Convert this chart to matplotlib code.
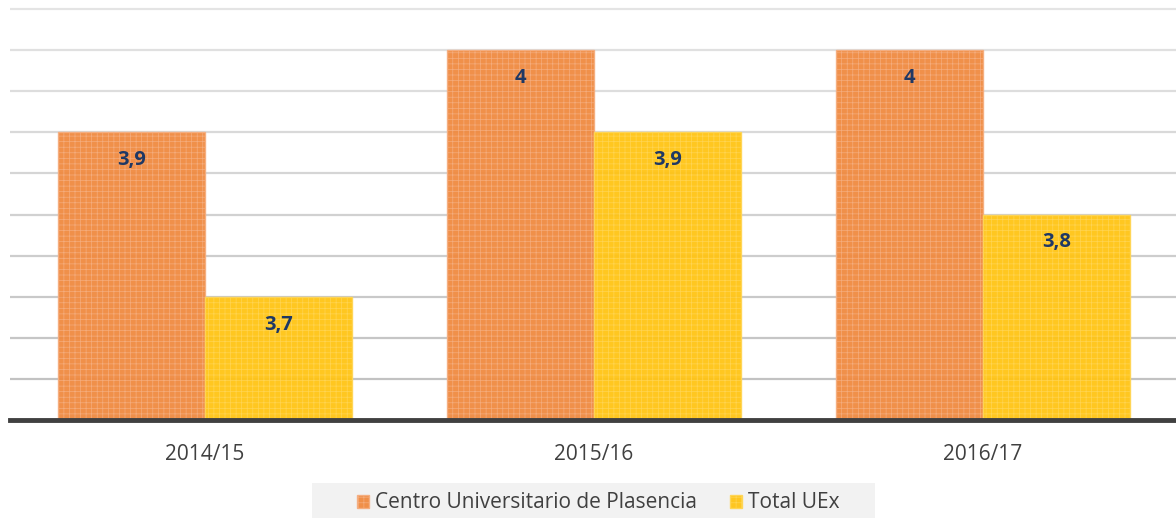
import matplotlib.pyplot as plt
import numpy as np
from matplotlib.patches import Rectangle

# data
years = ["2014/15", "2015/16", "2016/17"]
plasencia = [3.9, 4.0, 4.0]
total_uex = [3.7, 3.9, 3.8]
labels_plasencia = ["3,9", "4", "4"]
labels_uex = ["3,7", "3,9", "3,8"]
series_names = ["Centro Universitario de Plasencia", "Total UEx"]

plt.rcParams['font.family'] = ['Open Sans', 'DejaVu Sans']
plt.rcParams['hatch.linewidth'] = 0.5

fig = plt.figure(figsize=(11.76, 5.18), dpi=100)
ax = fig.add_axes([10 / 1176, 98 / 518, 1 - 10 / 1176, 420 / 518])

x = np.arange(len(years))
w = 0.378
orange = "#F08A40"
yellow = "#FFC414"

b1 = ax.bar(x - w / 2, plasencia, w, color=orange, edgecolor="#F5AE80",
            hatch="+++", linewidth=1.0, zorder=2, alpha=0.95)
b2 = ax.bar(x + w / 2, total_uex, w, color=yellow, edgecolor="#FFD555",
            hatch="+++", linewidth=1.0, zorder=2, alpha=0.95)

# value labels inside the bars
for xi, v, t in zip(x - w / 2, plasencia, labels_plasencia):
    ax.text(xi, v - 0.034, t, ha="center", va="center", fontsize=14.5,
            fontweight="bold", color="#1F3864", zorder=4)
for xi, v, t in zip(x + w / 2, total_uex, labels_uex):
    ax.text(xi, v - 0.034, t, ha="center", va="center", fontsize=14.5,
            fontweight="bold", color="#1F3864", zorder=4)

ax.set_xlim(-0.501, 2.496)
ax.set_ylim(3.55, 4.061)
ax.set_yticks(np.arange(3.6, 4.06, 0.05))
ax.yaxis.grid(True, color="#c8c8c8", linewidth=1.6, zorder=1)
# lighter gridlines towards the top, as in the original
for i, gl in enumerate(ax.get_ygridlines()):
    shade = 0.76 + 0.015 * i
    gl.set_color((shade, shade, shade))
ax.set_axisbelow(True)
ax.tick_params(axis="y", left=False, labelleft=False)
ax.set_xticks(x)
ax.set_xticklabels(years, fontsize=15, color="#404040")
ax.tick_params(axis="x", length=0, pad=17)
for s in ["top", "right", "left"]:
    ax.spines[s].set_visible(False)
ax.spines["bottom"].set_color("#404040")
ax.spines["bottom"].set_linewidth(3.5)
ax.spines["bottom"].set_zorder(5)

# legend background box
fig.patches.append(Rectangle((312 / 1176, 0), (875 - 312) / 1176, 35 / 518,
                             transform=fig.transFigure, facecolor="#f2f2f2",
                             edgecolor="none", zorder=0))
leg = fig.legend([b1[0], b2[0]], series_names, loc="center",
                 bbox_to_anchor=(598 / 1176, 15 / 518), ncol=2, frameon=False,
                 fontsize=15, handlelength=0.6, handleheight=0.6, handletextpad=0.25,
                 columnspacing=1.6, borderpad=0.35)
for t in leg.get_texts():
    t.set_color("#404040")

fig.savefig("out.png", dpi=100)
